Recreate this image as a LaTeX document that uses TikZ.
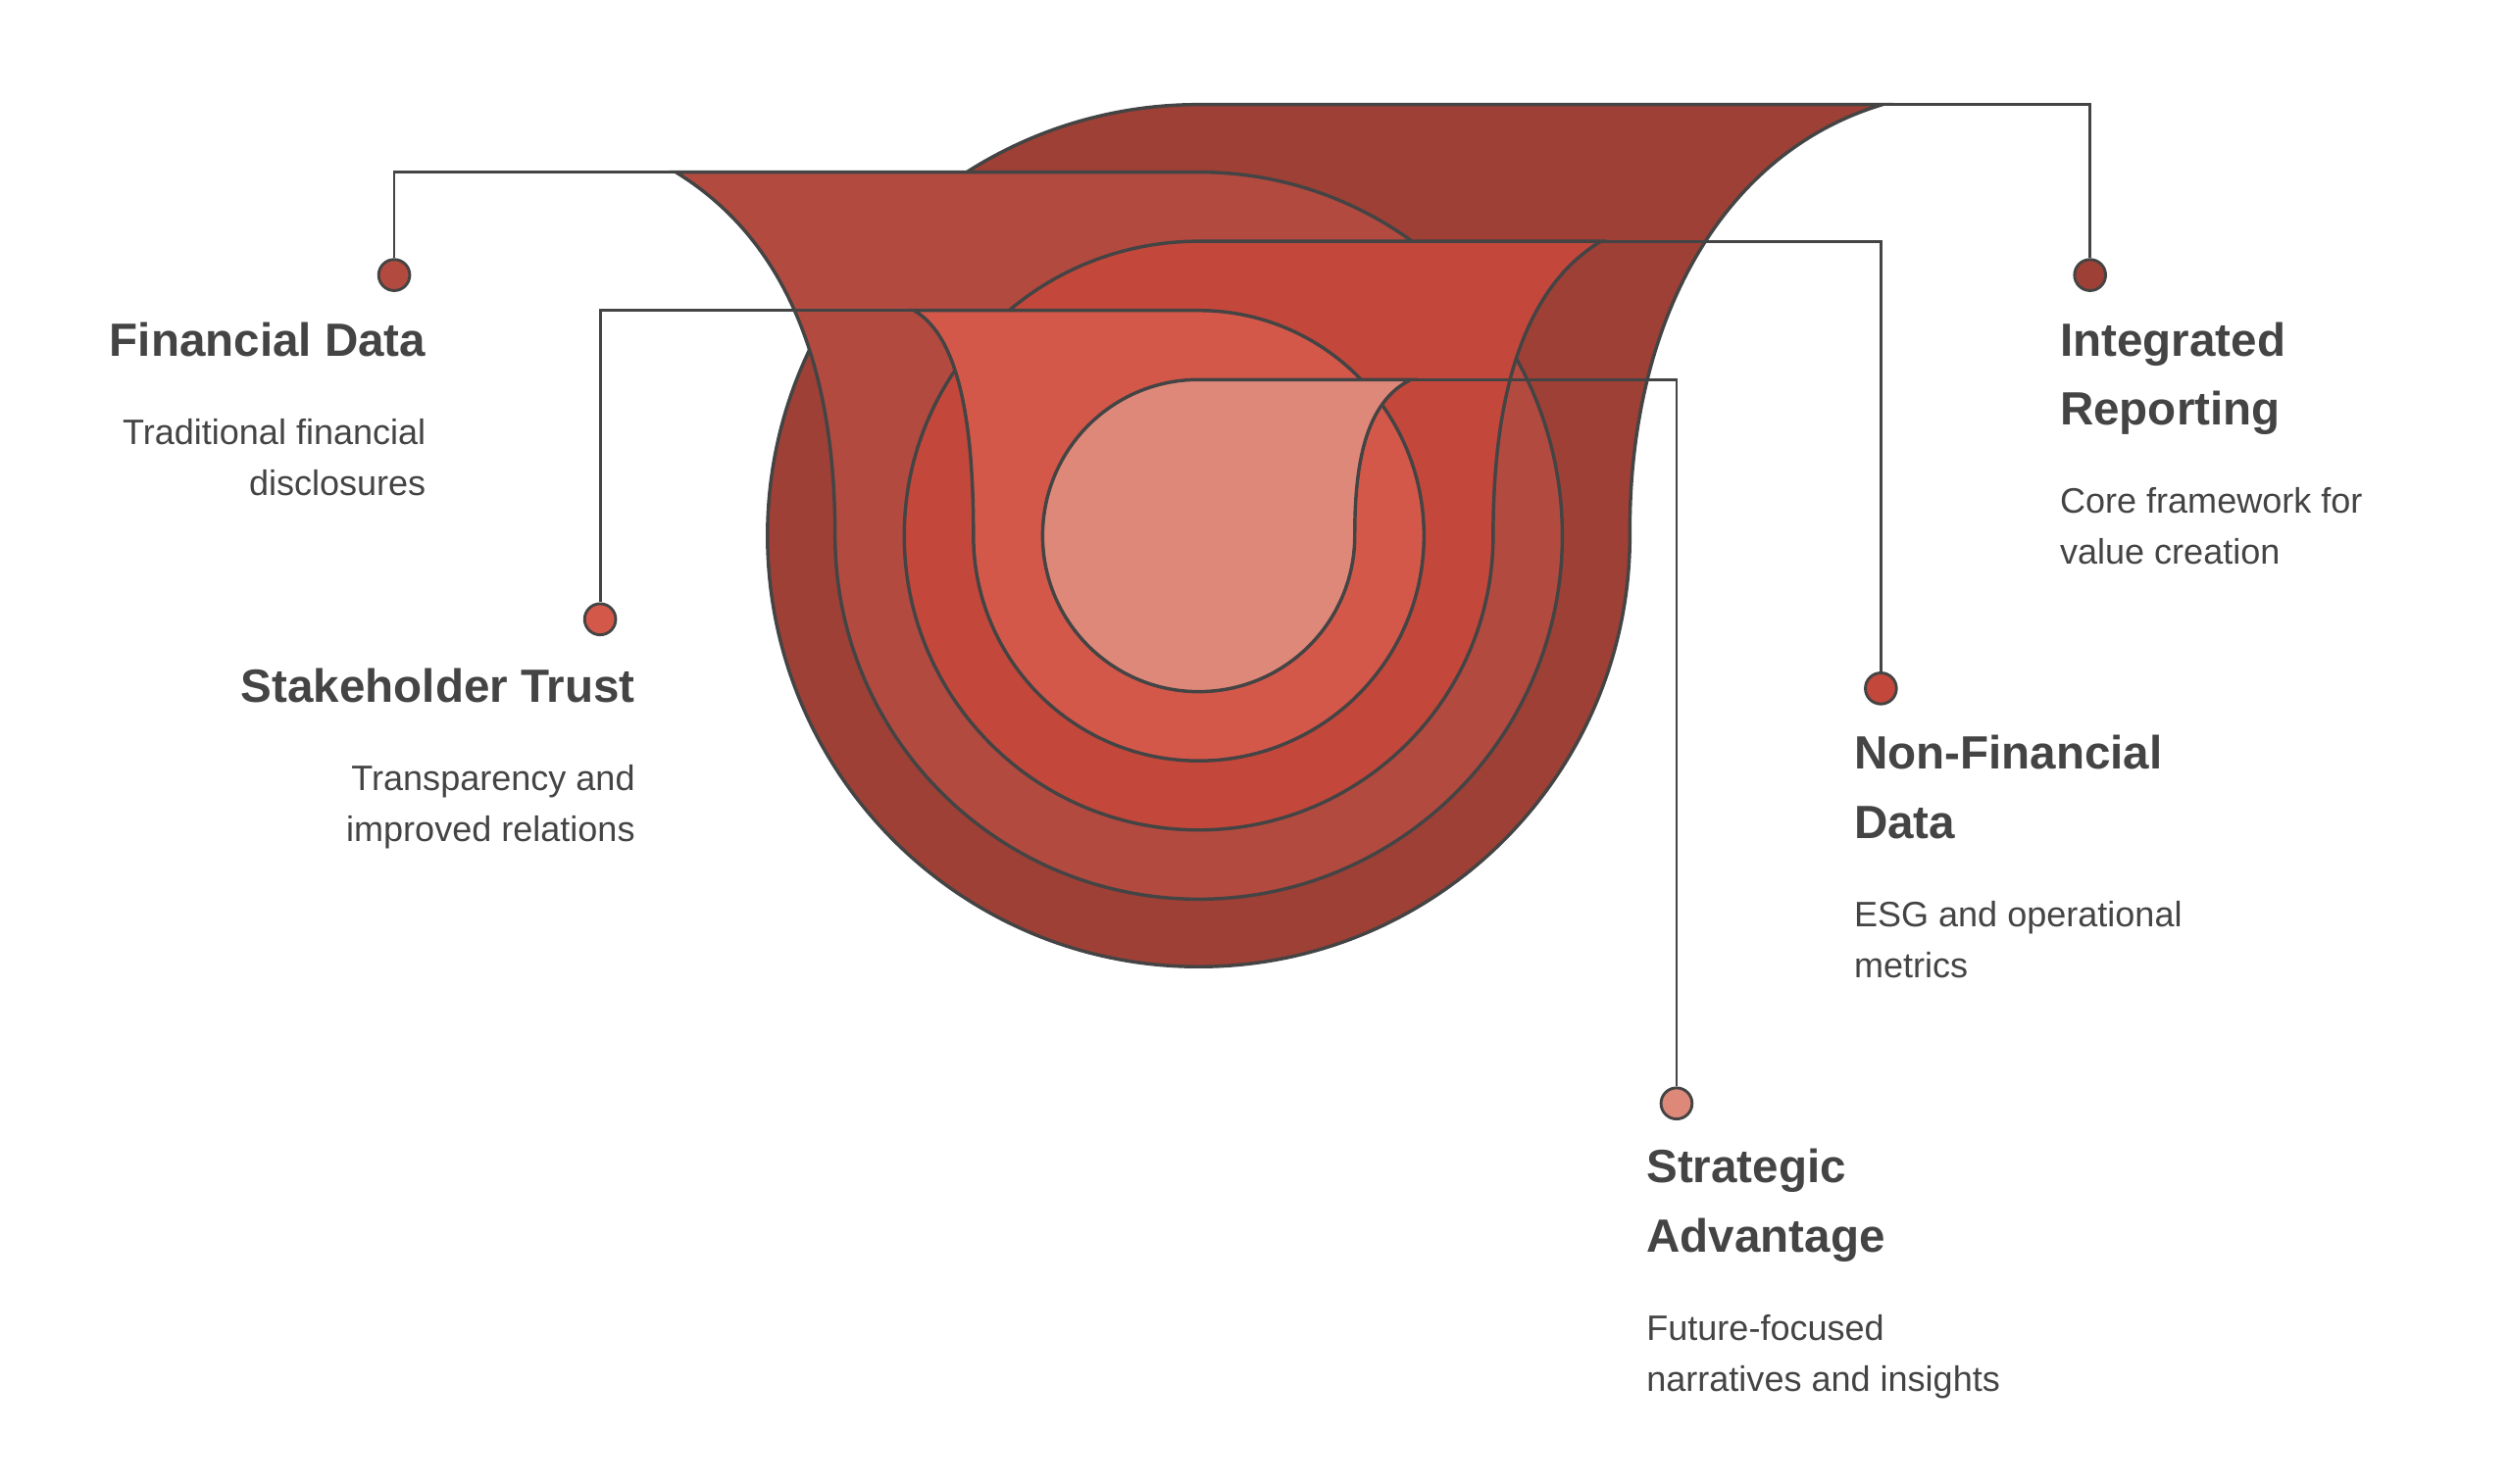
\documentclass[tikz,border=0pt]{standalone}
\usepackage{fontspec}
\setmainfont{Liberation Sans}
\definecolor{ringA}{HTML}{9E4036}
\definecolor{ringB}{HTML}{B34A40}
\definecolor{ringC}{HTML}{C4473B}
\definecolor{ringD}{HTML}{D4584A}
\definecolor{ringE}{HTML}{DE887A}
\definecolor{inkgray}{HTML}{444444}
\begin{document}
\begin{tikzpicture}[x = 0.02cm, y = -0.02cm, % screen pixels, y down
                ring/.style = {draw = inkgray, line width = 1.2pt},
                leader/.style = {draw = inkgray, line width = 1pt},
                dot/.style = {circle, draw = inkgray, line width = 1pt, minimum size = 11pt, inner sep = 0pt},
                title/.style = {font = \bfseries\fontsize{16.5}{24.5}\selectfont, text = inkgray, inner sep = 0pt},
                desc/.style = {font = \fontsize{12.5}{18}\selectfont, text = inkgray, inner sep = 0pt}
            ]
            \useasboundingbox (0,0) rectangle (1560,922);

            % layers
            \path[ring, fill = ringA] (745,65) arc[start angle = -90, end angle = -360, radius = 268]
                .. controls (1012,200) and (1070,95) .. (1170,65) -- cycle;
            \path[ring, fill = ringB] (420,107) .. controls (490,150) and (519,230) .. (519,333)
                arc[start angle = 180, end angle = -90, radius = 226] -- cycle;
            \path[ring, fill = ringC] (995,150) .. controls (945,180) and (928,250) .. (928,333)
                arc[start angle = 0, end angle = 270, radius = 183] -- cycle;
            \path[ring, fill = ringD] (568,193) .. controls (598,210) and (605,270) .. (605,333)
                arc[start angle = 180, end angle = -90, radius = 140] -- cycle;
            \path[ring, fill = ringE] (877,236) .. controls (848,250) and (842,290) .. (842,333)
                arc[start angle = 0, end angle = 270, radius = 97] -- cycle;

            % tail ends
            \coordinate (tA) at (1170,65); \coordinate (tB) at (420,107);
            \coordinate (tC) at (995,150); \coordinate (tD) at (568,193);
            \coordinate (tE) at (877,236);

            % dots
            \node[dot, fill = ringA] (dA) at (1299,171) {};
            \node[dot, fill = ringB] (dB) at (245,171) {};
            \node[dot, fill = ringC] (dC) at (1169,428) {};
            \node[dot, fill = ringD] (dD) at (373,385) {};
            \node[dot, fill = ringE] (dE) at (1042,686) {};

            \draw[leader] (tA) -| (dA); \draw[leader] (tB) -| (dB);
            \draw[leader] (tC) -| (dC); \draw[leader] (tD) -| (dD);
            \draw[leader] (tE) -| (dE);

            % labels
            \node[title, anchor = north east, align = right] (hB) at (265,200) {Financial Data};
            \node[desc, anchor = north east, align = right] (xB) at (265,260) {Traditional financial\\disclosures};
            \node[title, anchor = north east, align = right] (hD) at (395,415) {Stakeholder Trust};
            \node[desc, anchor = north east, align = right] (xD) at (395,475) {Transparency and\\improved relations};
            \node[title, anchor = north west, align = left] (hA) at (1280,200) {Integrated\\Reporting};
            \node[desc, anchor = north west, align = left] (xA) at (1280,303) {Core framework for\\value creation};
            \node[title, anchor = north west, align = left] (hC) at (1152,457) {Non-Financial\\Data};
            \node[desc, anchor = north west, align = left] (xC) at (1152,560) {ESG and operational\\metrics};
            \node[title, anchor = north west, align = left] (hE) at (1023,714) {Strategic\\Advantage};
            \node[desc, anchor = north west, align = left] (xE) at (1023,817) {Future-focused\\narratives and insights};
        \end{tikzpicture}
\end{document}
